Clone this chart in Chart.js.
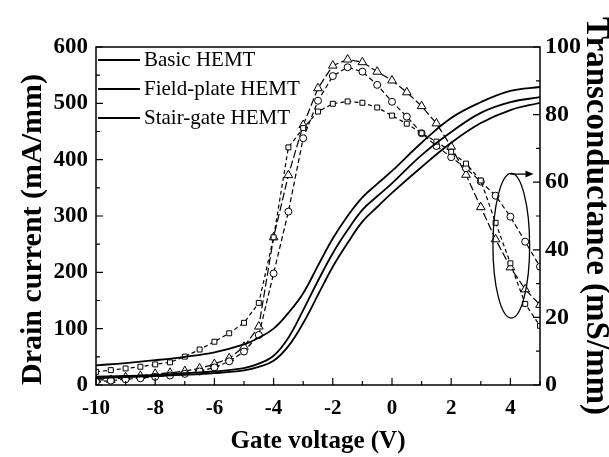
<!DOCTYPE html>
<html>
<head>
<meta charset="utf-8">
<script src="https://cdn.jsdelivr.net/npm/chart.js@4.4.1/dist/chart.umd.min.js"></script>
<style>
  html, body { margin: 0; padding: 0; background: #fff; }
  #wrap { width: 609px; height: 457px; }
</style>
</head>
<body>
<div id="wrap"><canvas id="chart" width="609" height="457"></canvas></div>
<script>
// gate voltage for the drain current curves
const vgDrain = [-10, -9, -8, -7, -6, -5, -4.5, -4, -3.5, -3, -2.5, -2, -1.5, -1, -0.5, 0, 1, 2, 3, 4, 5]
const idBasic = [35, 39, 44, 50, 58, 72, 84, 100, 128, 163, 212, 260, 300, 333, 357, 380, 430, 474, 502, 522, 529]
const idFieldPlate = [15, 16, 18, 21, 24, 30, 38, 52, 84, 133, 185, 234, 275, 311, 335, 358, 408, 449, 483, 502, 511]
const idStairGate = [12, 14, 16, 18, 21, 26, 32, 43, 69, 110, 160, 210, 252, 290, 316, 341, 387, 430, 465, 488, 501]

// gate voltage for the transconductance curves
const vgGm = [-10, -9.5, -9, -8.5, -8, -7.5, -7, -6.5, -6, -5.5, -5, -4.5, -4, -3.5, -3, -2.5, -2, -1.5, -1, -0.5, 0, 0.5, 1, 1.5, 2, 2.5, 3, 3.5, 4, 4.5, 5]
const gmSquare = [3.9, 4.4, 4.9, 5.4, 6.1, 6.7, 8.4, 10.5, 12.8, 15.3, 18.4, 24.3, 43.7, 70.3, 76, 80.9, 83.2, 83.9, 83.5, 82.1, 79.7, 77.3, 74.5, 72.0, 69.0, 65.5, 60.5, 48.0, 36, 24.0, 17.5]
const gmCircle = [1.0, 1.3, 1.7, 2.0, 2.4, 2.8, 3.3, 4.0, 5.2, 7.0, 9.9, 14.8, 33.0, 51.3, 73.0, 84.1, 91.4, 94.0, 92.7, 88.8, 83.8, 79.4, 74.5, 70.7, 67.4, 64.1, 60.2, 56.0, 49.8, 42.4, 35.0]
const gmTriangle = [1.5, 1.5, 2.3, 2.7, 3.3, 3.6, 4.1, 4.9, 6.2, 7.9, 11.3, 17.3, 43.7, 62.1, 76.9, 87.8, 94.5, 96.3, 95.5, 92.7, 90.1, 86.6, 82.5, 77.4, 70.5, 62.2, 52.6, 43.1, 34.8, 28.3, 23.7]

const legendLabels = ['Basic HEMT', 'Field-plate HEMT', 'Stair-gate HEMT']

const serif = "'Liberation Serif', 'Times New Roman', serif"

function pairs(xs, ys) {
  return xs.map((x, i) => ({ x: x, y: ys[i] }))
}

function drainSet(label, values) {
  return {
    label: label,
    data: pairs(vgDrain, values),
    yAxisID: 'y',
    borderColor: '#000',
    borderWidth: 1.8,
    pointRadius: 0,
    tension: 0.4,
    fill: false,
  }
}

function gmSet(values, style, radius, dash) {
  return {
    label: '',
    data: pairs(vgGm, values),
    yAxisID: 'y2',
    borderColor: '#000',
    borderWidth: 1.2,
    borderDash: dash,
    pointStyle: style,
    pointRadius: radius,
    pointBorderWidth: 1,
    pointBackgroundColor: '#fff',
    pointBorderColor: '#000',
    tension: 0,
    fill: false,
  }
}

// frame, inward ticks, legend and the ellipse marking the gm group
const decorations = {
  id: 'decorations',
  beforeDraw(chart) {
    const ctx = chart.ctx
    ctx.save()
    ctx.fillStyle = '#fff'
    ctx.fillRect(0, 0, chart.width, chart.height)
    ctx.restore()
  },
  afterDraw(chart) {
    const ctx = chart.ctx
    const a = chart.chartArea
    const sx = chart.scales.x
    const sy = chart.scales.y
    const sy2 = chart.scales.y2
    ctx.save()
    ctx.strokeStyle = '#000'
    ctx.lineWidth = 1.5
    ctx.strokeRect(a.left, a.top, a.right - a.left, a.bottom - a.top)

    ctx.lineWidth = 1.2
    ctx.beginPath()
    for (let v = -10; v <= 5; v += 1) {
      const px = sx.getPixelForValue(v)
      const len = v % 2 === 0 ? 7 : 4
      ctx.moveTo(px, a.bottom)
      ctx.lineTo(px, a.bottom - len)
    }
    for (let v = 0; v <= 600; v += 50) {
      const py = sy.getPixelForValue(v)
      const len = v % 100 === 0 ? 7 : 4
      ctx.moveTo(a.left, py)
      ctx.lineTo(a.left + len, py)
    }
    for (let v = 0; v <= 100; v += 10) {
      const py = sy2.getPixelForValue(v)
      const len = v % 20 === 0 ? 7 : 4
      ctx.moveTo(a.right, py)
      ctx.lineTo(a.right - len, py)
    }
    ctx.stroke()

    // legend
    ctx.font = '21px ' + serif
    ctx.fillStyle = '#000'
    ctx.textBaseline = 'middle'
    ctx.lineWidth = 1.8
    legendLabels.forEach((label, i) => {
      const y = a.top + 13 + i * 29
      ctx.beginPath()
      ctx.moveTo(a.left + 2, y)
      ctx.lineTo(a.left + 44, y)
      ctx.stroke()
      ctx.fillText(label, a.left + 48, y)
    })

    // ellipse around the gm curves with arrow towards the right axis
    const cx = sx.getPixelForValue(4.03)
    const cy = sy2.getPixelForValue(41.2)
    const rx = sx.getPixelForValue(4.65) - cx
    const ry = cy - sy2.getPixelForValue(62.6)
    ctx.lineWidth = 1.3
    ctx.beginPath()
    ctx.ellipse(cx, cy, rx, ry, 0, 0, Math.PI * 2)
    ctx.stroke()
    const ax0 = sx.getPixelForValue(4.0)
    const ax1 = sx.getPixelForValue(4.78)
    const ay = sy2.getPixelForValue(62.4)
    ctx.beginPath()
    ctx.moveTo(ax0, ay)
    ctx.lineTo(ax1 - 6, ay)
    ctx.stroke()
    ctx.beginPath()
    ctx.moveTo(ax1, ay)
    ctx.lineTo(ax1 - 8, ay - 3.5)
    ctx.lineTo(ax1 - 8, ay + 3.5)
    ctx.closePath()
    ctx.fill()
    ctx.restore()
  },
}

const ctx = document.getElementById('chart').getContext('2d')
new Chart(ctx, {
  type: 'line',
  data: {
    datasets: [
      drainSet(legendLabels[0], idBasic),
      drainSet(legendLabels[1], idFieldPlate),
      drainSet(legendLabels[2], idStairGate),
      gmSet(gmSquare, 'rect', 3.5, [4, 3]),
      gmSet(gmCircle, 'circle', 3.5, [5, 3]),
      gmSet(gmTriangle, 'triangle', 5, [8, 3]),
    ],
  },
  options: {
    responsive: false,
    animation: false,
    layout: { padding: { top: 47, left: 0, right: 0, bottom: 0 } },
    plugins: {
      legend: { display: false },
      tooltip: { enabled: false },
    },
    scales: {
      x: {
        type: 'linear',
        min: -10,
        max: 5,
        grid: { display: false, drawTicks: false },
        border: { display: false },
        ticks: {
          stepSize: 2,
          includeBounds: false,
          color: '#000',
          padding: 11,
          font: { family: serif, size: 21, weight: 'bold' },
        },
        title: {
          display: true,
          text: 'Gate voltage (V)',
          color: '#000',
          font: { family: serif, size: 25, weight: 'bold', lineHeight: 1 },
          padding: { top: 0, bottom: 3 },
        },
        afterFit(scale) { scale.height = 72 },
      },
      y: {
        position: 'left',
        min: 0,
        max: 600,
        grid: { display: false, drawTicks: false },
        border: { display: false },
        ticks: {
          stepSize: 100,
          color: '#000',
          padding: 8,
          font: { family: serif, size: 23, weight: 'bold' },
        },
        title: {
          display: true,
          text: 'Drain current (mA/mm)',
          align: 'start',
          color: '#000',
          font: { family: serif, size: 30, weight: 'bold', lineHeight: 1 },
          padding: { top: 18, bottom: 0 },
        },
        afterFit(scale) { scale.width = 96 },
      },
      y2: {
        position: 'right',
        min: 0,
        max: 100,
        grid: { display: false, drawTicks: false },
        border: { display: false },
        ticks: {
          stepSize: 20,
          color: '#000',
          padding: 5,
          font: { family: serif, size: 24, weight: 'bold' },
        },
        title: {
          display: true,
          text: 'Transconductance (mS/mm)',
          color: '#000',
          font: { family: serif, size: 33, weight: 'bold', lineHeight: 0.8 },
          padding: { top: 0, bottom: 0 },
        },
        afterFit(scale) { scale.width = 69 },
      },
    },
  },
  plugins: [decorations],
})
</script>
</body>
</html>
